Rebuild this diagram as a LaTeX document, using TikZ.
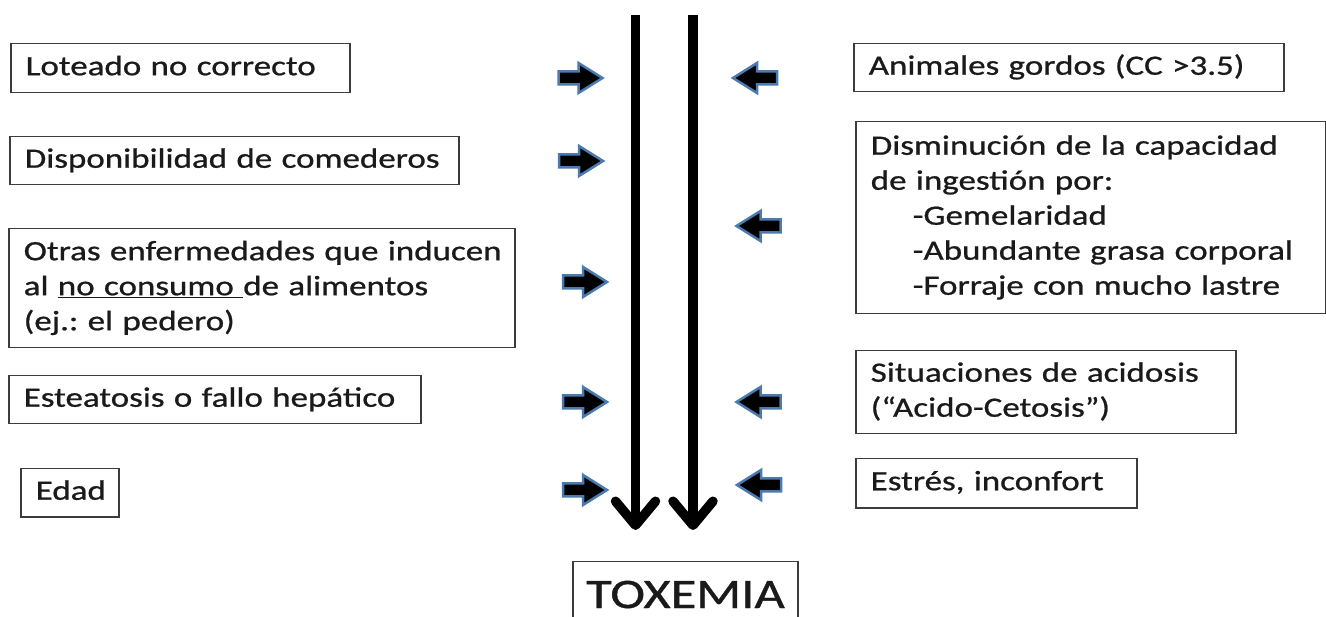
\documentclass[tikz,border=0pt]{standalone}
\usepackage{fontspec}
\setmainfont{Carlito}[FakeStretch=1.25,FakeBold=0.8]
\usetikzlibrary{arrows.meta}
\frenchspacing
\definecolor{boxline}{HTML}{3C3C3C}
\definecolor{arrowblue}{HTML}{4A7AB0}
\definecolor{txt}{HTML}{1A1A1A}
\tikzset{
  txtbox/.style={draw=boxline, line width=1.5pt, anchor=north west, align=left, text=txt,
    inner xsep=15pt, inner ysep=0pt, font=\fontsize{28}{35}\selectfont},
  blockarr/.style={fill=black, draw=arrowblue, line width=2.5pt, line join=miter},
  bigarrow/.style={line width=9.5pt, -{Straight Barb[length=24pt,width=40pt,line width=9.5pt,round]}},
  rarrow/.pic={\path[blockarr] (-22,-6.5) -- (-2,-6.5) -- (-2,-15) -- (22,0) -- (-2,15) -- (-2,6.5) -- (-22,6.5) -- cycle;},
  larrow/.pic={\path[blockarr] (22,-6.5) -- (2,-6.5) -- (2,-15) -- (-22,0) -- (2,15) -- (2,6.5) -- (22,6.5) -- cycle;}
}
\newcommand\mybox[6]{%
  \node[txtbox, minimum width={#4-#2}, minimum height={#5-#3}, text width={#4-#2-30}] (#1) at (#2,#3)
    {\frenchspacing\begin{tabular}{@{}l@{}}#6\end{tabular}};}
\begin{document}
\begin{tikzpicture}[x=1pt,y=-1pt]
\useasboundingbox (0,0) rectangle (1326,617);
\fill[white] (0,0) rectangle (1326,617);
\clip (0,0) rectangle (1326,617);
% left boxes
\mybox{lot}{10}{43}{349}{92}{Loteado no correcto}
\mybox{disp}{9}{136}{458}{184}{Disponibilidad de comederos}
\mybox{otras}{8}{228}{514}{347}{Otras enfermedades que inducen\\al \underline{no consumo\ }de alimentos\\(ej.: el pedero)}
\mybox{este}{8}{375}{420}{423}{Esteatosis o fallo hepático}
\mybox{edad}{20}{468}{118}{516}{Edad}
% right boxes
\mybox{anim}{853}{43}{1283}{91}{Animales gordos (CC >3.5)}
\mybox{dism}{855}{121}{1325}{313}{Disminución de la capacidad\\de ingestión por:\\\hspace*{42pt}-Gemelaridad\\\hspace*{42pt}-Abundante grasa corporal\\\hspace*{42pt}-Forraje con mucho lastre}
\mybox{sit}{855}{350}{1235}{433}{Situaciones de acidosis\\(“Acido-Cetosis”)}
\mybox{estr}{855}{458}{1136}{507}{Estrés, inconfort}
% toxemia
\node[draw=boxline, line width=1.5pt, anchor=base, minimum width=225pt, inner ysep=19pt, text=txt,
  font=\fontsize{42}{50}\selectfont] (tox) at (685.5,608) {TOXEMIA};
% big arrows
\coordinate (t1) at (635.5,15);
\coordinate (b1) at (635.5,530);
\coordinate (t2) at (693,15);
\coordinate (b2) at (693,530);
\draw[bigarrow] (t1) -- (b1);
\draw[bigarrow] (t2) -- (b2);
% small block arrows
\pic (r1) at (580.5,78) {rarrow};
\pic (r2) at (581,161) {rarrow};
\pic (r3) at (585,282) {rarrow};
\pic (r4) at (585,402) {rarrow};
\pic (r5) at (585,490) {rarrow};
\pic (l1) at (755,78) {larrow};
\pic (l2) at (758.5,226) {larrow};
\pic (l3) at (758.5,402) {larrow};
\pic (l4) at (759,485) {larrow};
\end{tikzpicture}
\end{document}
